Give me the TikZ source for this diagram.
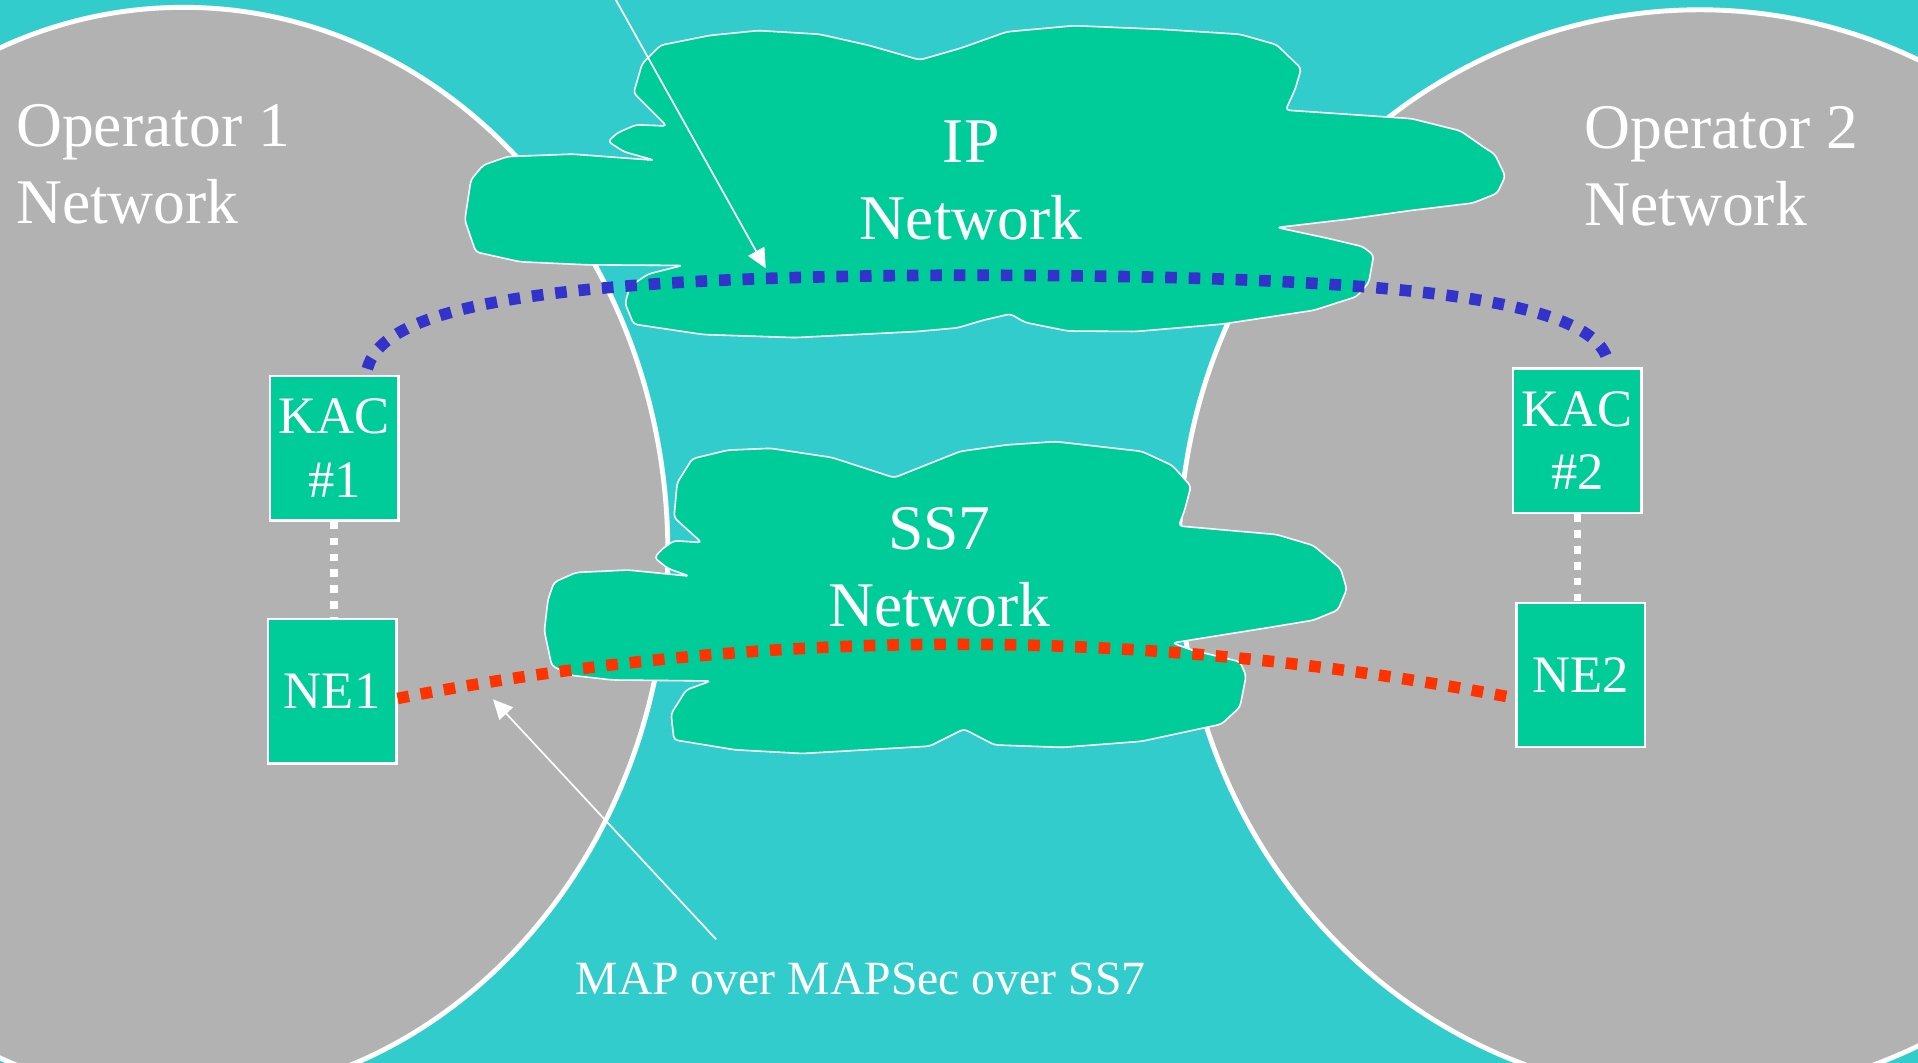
\documentclass[tikz,border=0pt]{standalone}
\usepackage{fontspec}
\setmainfont{Liberation Serif}
\usetikzlibrary{arrows.meta,calc}
\definecolor{bgteal}{RGB}{51,204,204}
\definecolor{cloudgreen}{RGB}{0,204,153}
\definecolor{netgrey}{RGB}{178,178,178}
\definecolor{linkblue}{RGB}{51,51,204}
\definecolor{linkred}{RGB}{255,51,0}
\tikzset{
  opnet/.style={fill=netgrey, draw=white, line width=4pt},
  cloudshape/.style={fill=cloudgreen, draw=white, line width=1.3pt, line join=round, rounded corners=3pt},
  bigtext/.style={text=white, font=\fontsize{52}{63}\selectfont, inner sep=0pt},
  boxnode/.style={draw=white, fill=cloudgreen, line width=2pt, text=white,
    font=\fontsize{43}{52}\selectfont, align=center, inner sep=0pt,
    minimum width=105pt, minimum height=118pt},
  dotlink/.style={line width=9.5pt, dash pattern=on 9.5pt off 9.7pt},
  whitelink/.style={draw=white, line width=6.5pt, dash pattern=on 6.3pt off 6.7pt},
  callout/.style={draw=white, line width=1.4pt, -{Triangle[length=16pt,width=15pt]}},
}
\begin{document}
\begin{tikzpicture}[x=1pt,y=-1pt]
\useasboundingbox (0,0) rectangle (1568,869);
\clip (0,0) rectangle (1568,869);
\fill[bgteal] (0,0) rectangle (1568,869);
% operator networks
\filldraw[opnet] (150,452) ellipse [x radius=396pt, y radius=446pt];
\filldraw[opnet] (1389.5,452) ellipse [x radius=425.5pt, y radius=444pt];
% IP cloud
\filldraw[cloudshape] (518,76) -- (525,52) -- (540,37) -- (580,29) -- (620,25) -- (670,28) -- (710,37) -- (752,49) -- (785,39.5) -- (823,26) -- (878,21) -- (950,24) -- (1013.6,28) -- (1043.7,36.6) -- (1063.8,56) -- (1058.8,73) -- (1051,90) -- (1154,97) -- (1194,107) -- (1214,121) -- (1222,126) -- (1230.6,144) -- (1224,158) -- (1204,166) -- (1154,172) -- (1104,179) -- (1044,186) -- (1084,194.5) -- (1114,201.6) -- (1123,208.6) -- (1119,231) -- (1109,242.5) -- (1074,253.7) -- (999,265) -- (928.5,271) -- (873,270.6) -- (838,263.6) -- (826,256.6) -- (803,262) -- (783,268) -- (750,271) -- (650,276) -- (575,273.5) -- (518,265) -- (511,248) -- (515,234) -- (530,224) -- (558,217) -- (480,216.5) -- (425,214) -- (389,206) -- (380,180) -- (385,147) -- (395,135) -- (415,128) -- (468,126) -- (535,131) -- (510,124) -- (497,115.6) -- (505,108.5) -- (520,102) -- (545,103) -- cycle;
% SS7 cloud
\filldraw[cloudshape] (566,375) -- (595,368) -- (630,366.5) -- (680,374) -- (731,390.5) -- (785,369) -- (823,363.7) -- (863,361) -- (933.5,369) -- (958.5,380.6) -- (973.6,397.5) -- (968.5,417) -- (963.6,430) -- (1043.7,437) -- (1073.8,446) -- (1096,464.7) -- (1101,481.7) -- (1093.8,498.7) -- (1073.8,507) -- (1038.7,512.8) -- (958.5,525.6) -- (973.6,531.2) -- (1013.7,541) -- (1018.7,552.5) -- (1013.7,578) -- (998.6,592) -- (933.5,606) -- (868.4,611) -- (813,609) -- (788,596) -- (760,610) -- (656,616) -- (601,613) -- (551,604.8) -- (548.6,583.6) -- (561,564) -- (581,556.7) -- (501,555.9) -- (466,552) -- (451,544) -- (445,515.7) -- (448,490) -- (453,476) -- (471,468) -- (513.5,466) -- (563.6,471) -- (546,464.7) -- (535,456) -- (541,449) -- (551,442) -- (573.6,443.5) -- (551,423) -- (553.6,394.7) -- cycle;
% texts (base anchor = baseline of the last line)
\node[bigtext, anchor=base west, align=left] (op1) at (13,183) {Operator 1\\Network};
\node[bigtext, anchor=base west, align=left] (op2) at (1295,184) {Operator 2\\Network};
\node[bigtext, anchor=base, align=center] (iplabel) at (794,196) {IP\\Network};
\node[bigtext, anchor=base, align=center] (ss7label) at (768,512) {SS7\\Network};
\node[text=white, font=\fontsize{39}{47}\selectfont, anchor=base, inner sep=0pt] (maplabel) at (703.5,813) {MAP over MAPSec over SS7};
% boxes
\node[boxnode] (kac1) at (273.3,366.5) {KAC\\\#1};
\node[boxnode] (ne1) at (271.5,565) {NE1};
\node[boxnode] (kac2) at (1289.6,360.3) {KAC\\\#2};
\node[boxnode] (ne2) at (1292.4,551.8) {NE2};
% links
\draw[whitelink] (kac1.south) -- (kac1.south |- ne1.north);
\draw[whitelink] (kac2.south) -- (kac2.south |- ne2.north);
\draw[dotlink, draw=linkblue] ([xshift=27pt,yshift=5pt]kac1.north) .. controls (312,255) and (420,226) .. (783,225) .. controls (1150,225) and (1305,245) .. ([xshift=25pt,yshift=4pt]kac2.north);
\draw[dotlink, draw=linkred] ([yshift=-6pt]ne1.east) .. controls (629,512) and (934,512) .. ([yshift=-19pt]ne2.west);
% callouts
\coordinate (iptail) at (500.7,-5);
\coordinate (iptip) at (626,219.4);
\coordinate (maptip) at (403,571.7);
\draw[callout] (iptail) -- (iptip);
\draw[callout] ([xshift=-118pt,yshift=19pt]maplabel.north) -- (maptip);
\end{tikzpicture}
\end{document}
